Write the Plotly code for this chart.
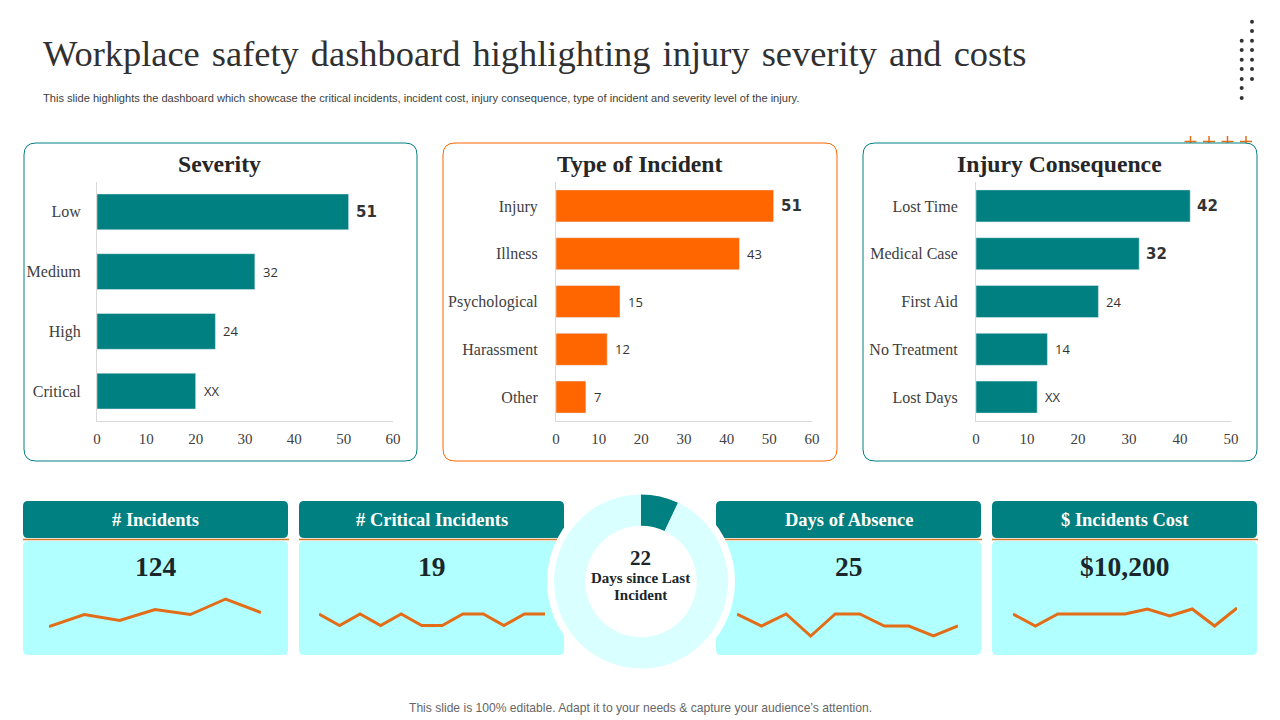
import plotly.graph_objects as go

W, H = 1280, 720

TEAL = "#008080"
ORANGE = "#FF6600"
LINE_ORANGE = "#E36C17"
CARD = "#B2FFFF"
RING = "#D9FFFF"
SERIF = "Liberation Serif"

# bar charts
severity_cats = ["Low", "Medium", "High", "Critical"]
severity_vals = [51, 32, 24, 20]
severity_text = ["<b>51</b>", "32", "24", "XX"]

incident_cats = ["Injury", "Illness", "Psychological", "Harassment", "Other"]
incident_vals = [51, 43, 15, 12, 7]
incident_text = ["<b>51</b>", "43", "15", "12", "7"]

consequence_cats = ["Lost Time", "Medical Case", "First Aid", "No Treatment", "Lost Days"]
consequence_vals = [42, 32, 24, 14, 12]
consequence_text = ["<b>42</b>", "<b>32</b>", "24", "14", "XX"]

# kpi cards
kpi_titles = ["# Incidents", "# Critical Incidents", "Days of Absence", "$ Incidents Cost"]
kpi_values = ["124", "19", "25", "$10,200"]
spark_incidents = [27, 51, 39, 61, 51, 82, 55]
spark_critical = [52, 29, 52, 29, 52, 29, 29, 52, 52, 29, 52, 52]
spark_absence = [52, 28, 52, 8, 52, 52, 28, 28, 8, 28]
spark_cost = [52, 28, 52, 52, 52, 52, 62, 48, 62, 28, 64]

# donut
donut_vals = [21, 279]


def px_x(x):
    return x / W


def px_y(y):
    return 1 - y / H


def rounded(x0, y0, x1, y1, r):
    return (f"M{px_x(x0 + r)},{px_y(y0)} L{px_x(x1 - r)},{px_y(y0)} "
            f"Q{px_x(x1)},{px_y(y0)} {px_x(x1)},{px_y(y0 + r)} "
            f"L{px_x(x1)},{px_y(y1 - r)} Q{px_x(x1)},{px_y(y1)} {px_x(x1 - r)},{px_y(y1)} "
            f"L{px_x(x0 + r)},{px_y(y1)} Q{px_x(x0)},{px_y(y1)} {px_x(x0)},{px_y(y1 - r)} "
            f"L{px_x(x0)},{px_y(y0 + r)} Q{px_x(x0)},{px_y(y0)} {px_x(x0 + r)},{px_y(y0)} Z")


def rect_shape(x0, y0, x1, y1, r, fill, line=None, width=0):
    return dict(type="path", path=rounded(x0, y0, x1, y1, r), xref="paper", yref="paper",
                fillcolor=fill, line=dict(color=line or fill, width=width), layer="below")


def line_shape(x0, y0, x1, y1, color, width):
    return dict(type="line", x0=px_x(x0), x1=px_x(x1), y0=px_y(y0), y1=px_y(y1),
                xref="paper", yref="paper", line=dict(color=color, width=width), layer="below")


def circle_shape(cx, cy, r, fill):
    return dict(type="circle", x0=px_x(cx - r), x1=px_x(cx + r), y0=px_y(cy + r), y1=px_y(cy - r),
                xref="paper", yref="paper", fillcolor=fill, line=dict(width=0), layer="below")


def label(text, x, y, size, color="#262626", family=SERIF, anchor="center"):
    return dict(text=text, x=px_x(x), y=px_y(y), xref="paper", yref="paper", showarrow=False,
                xanchor=anchor, yanchor="middle", font=dict(family=family, size=size, color=color))


fig = go.Figure()
shapes = []
notes = []
axes = {}

# decoration: orange plus signs peeking out behind the third panel
for x in [1190.5, 1209, 1227.5, 1246]:
    shapes.append(line_shape(x, 136, x, 148, LINE_ORANGE, 1.5))
    shapes.append(line_shape(x - 6, 141.5, x + 6, 141.5, LINE_ORANGE, 1.5))

# decoration: dots top right
for y in [21.7, 31, 40.7, 50, 59.7, 69, 79]:
    shapes.append(circle_shape(1252, y, 2, "#333333"))
for y in [40.7, 50, 59.7, 69, 79, 88, 98]:
    shapes.append(circle_shape(1241.7, y, 2, "#333333"))

# bar panels
panels = [
    dict(title="Severity", frame=(24, 417), plot=(97, 393), cats=severity_cats, vals=severity_vals,
         text=severity_text, color=TEAL, xmax=60, width=0.6, standoff=12),
    dict(title="Type of Incident", frame=(443, 837), plot=(556, 812), cats=incident_cats, vals=incident_vals,
         text=incident_text, color=ORANGE, xmax=60, width=0.67, standoff=14),
    dict(title="Injury Consequence", frame=(863, 1257), plot=(976, 1231), cats=consequence_cats, vals=consequence_vals,
         text=consequence_text, color=TEAL, xmax=50, width=0.67, standoff=14),
]

for i, p in enumerate(panels, start=1):
    shapes.append(rect_shape(p["frame"][0], 143, p["frame"][1], 461, 12, "white", p["color"], 1))
    notes.append(label(f"<b>{p['title']}</b>", sum(p["frame"]) / 2 - 1, 164, 23.7))
    fig.add_trace(go.Bar(x=p["vals"], y=p["cats"], orientation="h", width=p["width"], marker_color=p["color"],
                         xaxis=f"x{i}", yaxis=f"y{i}", hoverinfo="skip"))
    # value labels sit a bit further from the bar than textposition=outside allows
    for val, cat, txt in zip(p["vals"], p["cats"], p["text"]):
        is_bold = txt.startswith("<b>")
        notes.append(dict(text=txt, x=val, y=cat, xref=f"x{i}", yref=f"y{i}", showarrow=False, xanchor="left",
                          yanchor="middle", xshift=5 if is_bold else 6,
                          font=dict(family="DejaVu Sans" if is_bold else "Open Sans", size=15 if is_bold else 13,
                                    color="#333333")))
    axes[f"xaxis{i}"] = dict(domain=[px_x(p["plot"][0]), px_x(p["plot"][1])], range=[0, p["xmax"]], dtick=10,
                             anchor=f"y{i}", showgrid=False, zeroline=False, showline=True, linecolor="#D9D9D9",
                             linewidth=1, ticks="", ticklabelstandoff=4,
                             tickfont=dict(family=SERIF, size=15, color="#404040"))
    axes[f"yaxis{i}"] = dict(domain=[px_y(421), px_y(182)], autorange="reversed", anchor=f"x{i}", showgrid=False,
                             zeroline=False, showline=True, linecolor="#D9D9D9", linewidth=1, ticks="",
                             ticklabelstandoff=p["standoff"], tickfont=dict(family=SERIF, size=16, color="#404040"))

# kpi cards
cards = [(23, 288), (299, 564), (716, 981), (992, 1257)]
spark_spans = [(49, 261), (319, 545), (737, 958), (1013, 1237)]
sparks = [spark_incidents, spark_critical, spark_absence, spark_cost]

for j, (card, span, spark, title, value) in enumerate(zip(cards, spark_spans, sparks, kpi_titles, kpi_values), start=4):
    shapes.append(rect_shape(card[0], 501, card[1], 538, 5, TEAL))
    shapes.append(rect_shape(card[0], 541, card[1], 655, 5, CARD))
    shapes.append(line_shape(card[0], 539.5, card[1] + 1, 539.5, "#C87A2A", 1.5))
    notes.append(label(f"<b>{title}</b>", sum(card) / 2, 520, 18.5, "white"))
    notes.append(label(f"<b>{value}</b>", sum(card) / 2, 566, 27.5, "#1A262B"))
    fig.add_trace(go.Scatter(x=list(range(len(spark))), y=spark, mode="lines", cliponaxis=False,
                             line=dict(color=LINE_ORANGE, width=3), xaxis=f"x{j}", yaxis=f"y{j}", hoverinfo="skip"))
    axes[f"xaxis{j}"] = dict(domain=[px_x(span[0]), px_x(span[1])], range=[0, len(spark) - 1], visible=False,
                             anchor=f"y{j}")
    axes[f"yaxis{j}"] = dict(domain=[px_y(640), px_y(590)], range=[0, 100], visible=False, anchor=f"x{j}")

# donut in the middle, white halo cuts into the cards
shapes.append(circle_shape(641, 581.5, 94, "white"))
fig.add_trace(go.Pie(values=donut_vals, hole=0.64, sort=False, direction="clockwise", rotation=0,
                     marker=dict(colors=[TEAL, RING], line=dict(width=0)), textinfo="none", hoverinfo="skip",
                     domain=dict(x=[px_x(641 - 87), px_x(641 + 87)], y=[px_y(668.5), px_y(494.5)])))
notes.append(label("<b>22</b>", 640, 558, 21, "#1A262B"))
notes.append(label("<b>Days since Last</b>", 640, 578, 15, "#1A262B"))
notes.append(label("<b>Incident</b>", 640, 595, 15, "#1A262B"))

# header and footer text
notes.append(label("Workplace \u200asafety \u200adashboard \u200ahighlighting \u200ainjury \u200aseverity \u200aand \u200acosts",
                   41, 54.5, 36.4, "#303030", anchor="left"))
notes.append(label("This slide highlights the dashboard which showcase the critical incidents, incident cost, "
                   "injury consequence, type of incident and severity level of the injury.",
                   41, 98, 11.1, "#404040", "Liberation Sans", "left"))
notes.append(label("This slide is 100% editable. Adapt it to your needs & capture your audience\u2019s attention.",
                   640, 708, 12.1, "#666666", "Liberation Sans"))

fig.update_layout(width=W, height=H, autosize=False, margin=dict(l=0, r=0, t=0, b=0, autoexpand=False),
                  showlegend=False, paper_bgcolor="white", plot_bgcolor="rgba(0,0,0,0)", shapes=shapes,
                  annotations=notes, barmode="overlay", **axes)

fig.write_html("out.html", post_script="document.body.style.margin='0';", config=dict(displayModeBar=False))
